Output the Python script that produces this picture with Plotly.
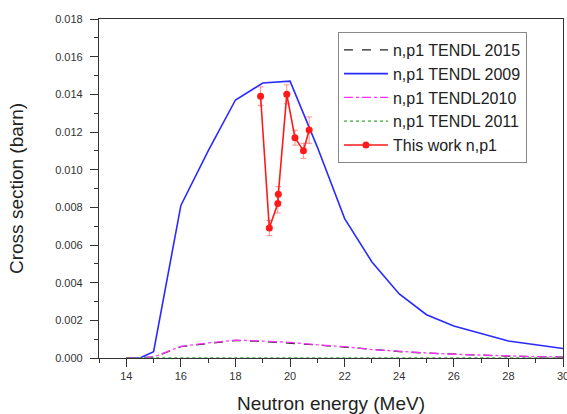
import plotly.graph_objects as go

energy_tendl = [14, 14.5, 15, 16, 17, 18, 19, 20, 21, 22, 23, 24, 25, 26, 27, 28, 29, 30]
tendl2009 = [0, 0, 0.00034, 0.0081, 0.0110, 0.0137, 0.0146, 0.0147, 0.0112, 0.0074, 0.0051,
             0.0034, 0.0023, 0.0017, 0.0013, 0.0009, 0.0007, 0.0005]
tendl2010 = [0, 0, 0.00005, 0.00062, 0.0008, 0.00095, 0.0009, 0.00083, 0.0007, 0.0006, 0.00045,
             0.00035, 0.00027, 0.0002, 0.00015, 0.0001, 0.00007, 0.00005]
tendl2015 = [0, 0, 0.00004, 0.0006, 0.00078, 0.00093, 0.00088, 0.0008, 0.00069, 0.00058, 0.00044,
             0.00034, 0.00026, 0.0002, 0.00014, 0.0001, 0.00007, 0.00005]
tendl2011 = [0, 0, 0, 0, 0, 0, 0, 0, 0, 0, 0, 0, 0, 0, 0, 0, 0, 0]

energy_exp = [18.92, 19.24, 19.55, 19.57, 19.88, 20.18, 20.49, 20.70]
xs_exp = [0.0139, 0.0069, 0.0082, 0.0087, 0.0140, 0.0117, 0.0110, 0.0121]
xs_err = [0.0005, 0.0004, 0.0005, 0.0004, 0.0005, 0.0004, 0.0004, 0.0007]

FONT = "Liberation Sans, Arial"

fig = go.Figure()
fig.add_trace(go.Scatter(x=energy_tendl, y=tendl2015, mode="lines", name="n,p1 TENDL 2015",
                         line=dict(color="#222222", width=1.3, dash="dash")))
fig.add_trace(go.Scatter(x=energy_tendl, y=tendl2009, mode="lines", name="n,p1 TENDL 2009",
                         line=dict(color="#2a2aff", width=1.6)))
fig.add_trace(go.Scatter(x=energy_tendl, y=tendl2010, mode="lines", name="n,p1 TENDL2010",
                         line=dict(color="#ff33ff", width=1.3, dash="dashdot")))
fig.add_trace(go.Scatter(x=energy_tendl, y=tendl2011, mode="lines", name="n,p1 TENDL 2011",
                         line=dict(color="#33aa33", width=1.3, dash="dot")))
fig.add_trace(go.Scatter(x=energy_exp, y=xs_exp, mode="lines+markers", name="This work n,p1",
                         line=dict(color="#ff1a1a", width=1.6),
                         marker=dict(color="#ff1a1a", size=7),
                         error_y=dict(type="data", array=xs_err, color="rgba(255,60,60,0.55)",
                                      thickness=1, width=3)))

axis_common = dict(showline=True, linecolor="#333333", linewidth=1.2, mirror=True,
                   showgrid=False, zeroline=False, ticks="outside", ticklen=8,
                   automargin=False,
                   tickcolor="#333333", tickfont=dict(family=FONT, size=11, color="#333333"))

fig.update_xaxes(range=[13, 30], dtick=2, tick0=14, ticklabeloverflow="allow",
                 minor=dict(ticks="outside", ticklen=4, dtick=1, tick0=13, tickcolor="#333333"),
                 title=dict(text="Neutron energy (MeV)", font=dict(family=FONT, size=19, color="#222222"),
                            standoff=18),
                 **axis_common)
fig.update_yaxes(range=[0, 0.018], dtick=0.002, tickformat=".3f", ticklabelstandoff=5,
                 minor=dict(ticks="outside", ticklen=4, dtick=0.001, tickcolor="#333333"),
                 title=dict(text="Cross section (barn)", font=dict(family=FONT, size=19, color="#222222"),
                            standoff=26),
                 **axis_common)

fig.update_layout(
    width=567, height=414,
    margin=dict(l=99, r=4, t=19, b=56),
    paper_bgcolor="white", plot_bgcolor="white",
    font=dict(family=FONT, color="#222222"),
    legend=dict(x=0.515, y=0.962, xanchor="left", yanchor="top",
                bordercolor="#888888", borderwidth=1, bgcolor="white",
                font=dict(family=FONT, size=16, color="#222222"),
                tracegroupgap=0, itemwidth=44),
    showlegend=True,
)

fig.write_html("out.html")
